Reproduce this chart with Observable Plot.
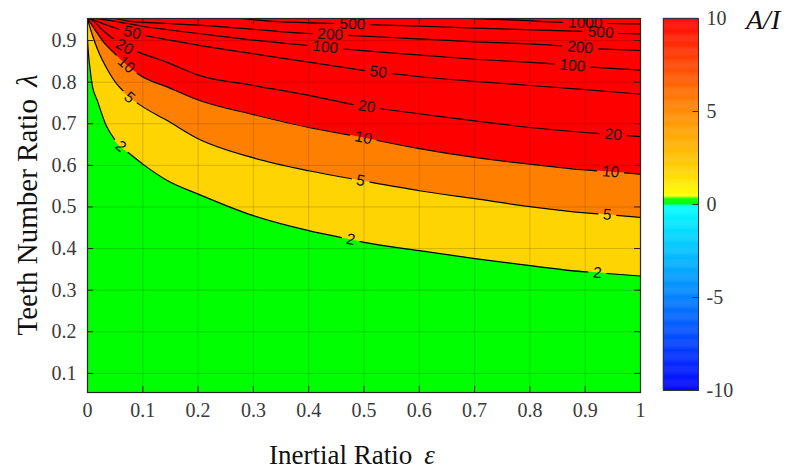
<!DOCTYPE html>
<html><head><meta charset="utf-8">
<script src="https://cdn.jsdelivr.net/npm/d3@7"></script>
<script src="https://cdn.jsdelivr.net/npm/@observablehq/plot@0.6"></script>
<style>
html,body{margin:0;padding:0;background:#fff;}
#wrap{position:relative;width:794px;height:472px;overflow:hidden;}
#wrap svg{position:absolute;left:0;top:0;}
</style></head><body><div id="wrap"></div>
<script>
// ---------- axis ticks ----------
const xTicks = [0, 0.1, 0.2, 0.3, 0.4, 0.5, 0.6, 0.7, 0.8, 0.9, 1];
const xTickLabels = ["0", "0.1", "0.2", "0.3", "0.4", "0.5", "0.6", "0.7", "0.8", "0.9", "1"];
const yTicks = [0.1, 0.2, 0.3, 0.4, 0.5, 0.6, 0.7, 0.8, 0.9];
const yTickLabels = ["0.1", "0.2", "0.3", "0.4", "0.5", "0.6", "0.7", "0.8", "0.9"];
const cbTicks = [-10, -5, 0, 5, 10];
const cbTickLabels = ["-10", "-5", "0", "5", "10"];

// ---------- contour lines of A/I : [epsilon, lambda] ----------
const contour2 = [[0,0.90],[0.002,0.864],[0.005,0.828],[0.008,0.796],[0.018,0.755],[0.034,0.695],[0.054,0.652],[0.078,0.626],[0.1,0.603],[0.145,0.563],[0.2,0.531],[0.3,0.479],[0.4,0.443],[0.5,0.415],[0.6,0.395],[0.7,0.376],[0.8,0.359],[0.9,0.344],[1.0,0.334]];
const contour5 = [[0,0.953],[0.002,0.943],[0.009,0.912],[0.019,0.876],[0.037,0.828],[0.055,0.792],[0.076,0.763],[0.094,0.746],[0.145,0.707],[0.2,0.664],[0.3,0.618],[0.4,0.587],[0.5,0.562],[0.6,0.539],[0.7,0.520],[0.8,0.501],[0.9,0.486],[1.0,0.475]];
const contour10 = [[0,0.953],[0.005,0.943],[0.0145,0.924],[0.031,0.893],[0.049,0.869],[0.07,0.842],[0.091,0.820],[0.145,0.788],[0.2,0.757],[0.3,0.722],[0.4,0.691],[0.5,0.666],[0.6,0.640],[0.7,0.619],[0.8,0.603],[0.9,0.589],[1.0,0.579]];
const contour20 = [[0.002,0.953],[0.0145,0.943],[0.025,0.928],[0.043,0.908],[0.067,0.885],[0.094,0.871],[0.145,0.847],[0.2,0.817],[0.3,0.792],[0.4,0.768],[0.48,0.746],[0.53,0.736],[0.6,0.724],[0.7,0.707],[0.8,0.691],[0.9,0.679],[1.0,0.669]];
const contour50 = [[0.005,0.953],[0.033,0.938],[0.06,0.926],[0.08,0.919],[0.108,0.911],[0.145,0.902],[0.2,0.889],[0.3,0.868],[0.4,0.848],[0.5,0.828],[0.6,0.813],[0.7,0.802],[0.8,0.792],[0.9,0.782],[1.0,0.771]];
const contour100 = [[0.012,0.953],[0.042,0.948],[0.096,0.935],[0.145,0.926],[0.2,0.917],[0.3,0.901],[0.4,0.888],[0.46,0.880],[0.57,0.868],[0.7,0.855],[0.84,0.844],[0.91,0.836],[1.0,0.829]];
const contour200 = [[0.05,0.953],[0.078,0.946],[0.145,0.941],[0.2,0.937],[0.3,0.927],[0.4,0.917],[0.48,0.912],[0.57,0.906],[0.7,0.897],[0.85,0.888],[0.92,0.880],[1.0,0.876]];
const contour500 = [[0.277,0.953],[0.3,0.950],[0.445,0.941],[0.51,0.938],[0.57,0.936],[0.7,0.930],[0.9,0.922],[0.96,0.917],[1.0,0.916]];
const contour1000 = [[0.69,0.953],[0.78,0.949],[0.855,0.944],[0.94,0.941],[1.0,0.940]];

const contourLevels = [2, 5, 10, 20, 50, 100, 200, 500, 1000];
const contourLines = [contour2, contour5, contour10, contour20, contour50, contour100, contour200, contour500, contour1000];

// contour label spots: [level, epsilon]
const labelSpots = [[2,0.06],[2,0.476],[2,0.922],[5,0.076],[5,0.494],[5,0.94],[10,0.07],[10,0.499],[10,0.946],[20,0.067],[20,0.505],[20,0.951],[50,0.081],[50,0.526],[100,0.43],[100,0.877],[200,0.439],[200,0.891],[500,0.479],[500,0.928],[1000,0.90]];

// colour bar stops
const cbValues = [-10, -0.05, 0, 0.3, 0.45, 2, 5, 10];
const cbColors = ["#0000ff", "#00ffff", "#00ff00", "#00ff00", "#ffff00", "#ffcc00", "#ff8a00", "#ff0000"];

// ---------- layout ----------
const W = 794, H = 472;
const mL = 87, mR = 154, mT = 18, mB = 80;
const yDom = [0.054, 0.953];
const KX = (W - mL - mR) / 1;
const KY = (H - mT - mB) / (yDom[1] - yDom[0]);
const CURVE = "monotone-x";

// split a contour line around its labels (pixel arc length)
function cutLine(pts, spots, gapOf) {
  const P = pts.map(([e, l]) => [e * KX, -l * KY]);
  const S = [0];
  for (let i = 1; i < P.length; i++) S.push(S[i - 1] + Math.hypot(P[i][0] - P[i - 1][0], P[i][1] - P[i - 1][1]));
  const total = S[S.length - 1];
  const at = s => {
    s = Math.max(0, Math.min(total, s));
    let i = 0;
    while (i < S.length - 2 && S[i + 1] < s) i++;
    const t = S[i + 1] > S[i] ? (s - S[i]) / (S[i + 1] - S[i]) : 0;
    return [pts[i][0] + t * (pts[i + 1][0] - pts[i][0]), pts[i][1] + t * (pts[i + 1][1] - pts[i][1])];
  };
  const sOfE = e => {
    let i = 0;
    while (i < pts.length - 2 && pts[i + 1][0] < e) i++;
    const t = (e - pts[i][0]) / (pts[i + 1][0] - pts[i][0]);
    return S[i] + t * (S[i + 1] - S[i]);
  };
  const gaps = spots.map(([lvl, e]) => { const s0 = sOfE(e); const g = gapOf(lvl) / 2; return {lvl, s0, a: s0 - g, b: s0 + g}; }).sort((p, q) => p.a - q.a);
  const keep = [];
  let cur = 0;
  for (const g of gaps) { if (g.a > cur) keep.push([cur, g.a]); cur = Math.max(cur, g.b); }
  if (cur < total) keep.push([cur, total]);
  const segs = keep.map(([a, b]) => {
    const seg = [at(a)];
    for (let i = 0; i < S.length; i++) if (S[i] > a + 0.5 && S[i] < b - 0.5) seg.push(pts[i]);
    seg.push(at(b));
    return seg;
  });
  const labels = gaps.map(g => {
    const c = at(g.s0), p1 = at(g.s0 - 6), p2 = at(g.s0 + 6);
    const ang = Math.atan2(-(p2[1] - p1[1]) * KY, (p2[0] - p1[0]) * KX) * 180 / Math.PI;
    return {e: c[0], l: c[1], text: String(g.lvl), rot: ang};
  });
  return {segs, labels};
}

const gapOf = lvl => String(lvl).length * 9 + 10;
const lineRows = [], labelRows = [];
contourLevels.forEach((lvl, k) => {
  const spots = labelSpots.filter(d => d[0] === lvl);
  const {segs, labels} = cutLine(contourLines[k], spots, gapOf);
  segs.forEach((seg, j) => seg.forEach(([e, l]) => lineRows.push({e, l, z: lvl + "-" + j})));
  labels.forEach(d => labelRows.push(d));
});

const fmtX = d => xTickLabels[xTicks.indexOf(d)];
const fmtY = d => yTickLabels[yTicks.indexOf(d)];
const SERIF = "'Liberation Serif', 'Times New Roman', serif";

const main = Plot.plot({
  width: W, height: H,
  marginLeft: mL, marginRight: mR, marginTop: mT, marginBottom: mB,
  style: {fontFamily: SERIF, fontSize: "20px", color: "#3a3a3a", background: "white"},
  x: {domain: [0, 1], ticks: xTicks, tickFormat: fmtX, tickSize: 0, tickPadding: 10, label: null},
  y: {domain: yDom, ticks: yTicks, tickFormat: fmtY, tickSize: 0, tickPadding: 11, label: null},
  marks: [
    Plot.frame({fill: "#ff0000", stroke: null}),
    Plot.areaY(contour10, {x: d => d[0], y1: yDom[0], y2: d => d[1], fill: "#ff8000", curve: CURVE}),
    Plot.areaY(contour5, {x: d => d[0], y1: yDom[0], y2: d => d[1], fill: "#ffd400", curve: CURVE}),
    Plot.areaY(contour2, {x: d => d[0], y1: yDom[0], y2: d => d[1], fill: "#00ff00", curve: CURVE}),
    Plot.ruleX(xTicks, {x: d => d, stroke: "#000", strokeOpacity: 0.16, strokeWidth: 1}),
    Plot.ruleY(yTicks, {y: d => d, stroke: "#000", strokeOpacity: 0.16, strokeWidth: 1}),
    Plot.line(lineRows, {x: "e", y: "l", z: "z", stroke: "#000", strokeWidth: 1.2, curve: CURVE, clip: true}),
    Plot.text(labelRows, {x: "e", y: "l", text: "text", rotate: "rot", fill: "#111", fontSize: 15.5, fontFamily: "'Liberation Sans', Arial, sans-serif", clip: true}),
    Plot.ruleX(xTicks, {x: d => d, y1: yDom[0], y2: yDom[0] + 6 / KY, stroke: "#262626"}),
    Plot.ruleX(xTicks, {x: d => d, y1: yDom[1] - 6 / KY, y2: yDom[1], stroke: "#262626"}),
    Plot.ruleY(yTicks, {y: d => d, x1: 0, x2: 6 / KX, stroke: "#262626"}),
    Plot.ruleY(yTicks, {y: d => d, x1: 1 - 6 / KX, x2: 1, stroke: "#262626"}),
    Plot.frame({stroke: "#262626", strokeWidth: 1.2})
  ]
});

const cbBands = d3.range(0, 400).map(i => -10 + i * 0.05);
const fmtC = d => cbTickLabels[cbTicks.indexOf(d)];
const bar = Plot.plot({
  width: W, height: H,
  marginLeft: 663, marginRight: 96, marginTop: 18, marginBottom: 82,
  style: {fontFamily: SERIF, fontSize: "20px", color: "#3a3a3a", background: "transparent"},
  x: {domain: [0, 1], axis: null},
  y: {domain: [-10, 10], axis: "right", ticks: cbTicks, tickFormat: fmtC, tickSize: 0, tickPadding: 8, label: null},
  color: {type: "linear", domain: cbValues, range: cbColors, interpolate: "rgb"},
  marks: [
    Plot.rect(cbBands, {x1: 0, x2: 1, y1: d => d, y2: d => d + 0.05, fill: d => d + 0.025, stroke: d => d + 0.025, strokeWidth: 0.4}),
    Plot.ruleY([-5, 0, 5], {y: d => d, x1: 0.84, x2: 1, stroke: "#333"}),
    Plot.frame({stroke: "#333", strokeWidth: 1})
  ]
});

const wrap = document.getElementById("wrap");
wrap.appendChild(main);
wrap.appendChild(bar);

// axis titles with italic symbols
const ms = d3.select(main);
const xt = ms.append("text").attr("x", 352).attr("y", 464).attr("text-anchor", "middle")
  .style("font-family", SERIF).style("font-size", "27px").attr("fill", "#111");
xt.append("tspan").text("Inertial Ratio");
xt.append("tspan").attr("dx", 12).style("font-style", "italic").text("ε");
const yt = ms.append("text").attr("transform", "translate(37,205) rotate(-90)").attr("text-anchor", "middle")
  .style("font-family", SERIF).style("font-size", "29px").attr("fill", "#111");
yt.append("tspan").text("Teeth Number Ratio");
yt.append("tspan").attr("dx", 12).style("font-style", "italic").text("λ");

d3.select(bar).append("text").attr("x", 746).attr("y", 29).attr("text-anchor", "start")
  .style("font-family", SERIF).style("font-size", "28px").style("font-style", "italic")
  .attr("fill", "#111").text("A/I");
</script>
</body></html>
